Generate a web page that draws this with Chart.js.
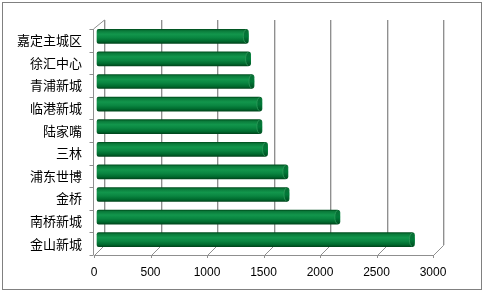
<!DOCTYPE html>
<html>
<head>
<meta charset="utf-8">
<script src="https://cdn.jsdelivr.net/npm/chart.js@4"></script>
<style>
html,body{margin:0;padding:0;background:#fff;}
canvas{display:block;}
</style>
</head>
<body>
<canvas id="c" width="485" height="293"></canvas>
<script>
const categories = ['嘉定主城区','徐汇中心','青浦新城','临港新城','陆家嘴','三林','浦东世博','金桥','南桥新城','金山新城'];
const values = [1340,1360,1390,1460,1460,1510,1690,1700,2150,2810];
const xMin = 0, xMax = 3000, xStep = 500;
const xTicks = [0,500,1000,1500,2000,2500,3000];

const DX = 10, DY = 10;     // depth of the back wall
const BX = 3, BY = -4;      // bar depth offset

const wall = {
  id: 'wall',
  beforeDatasetsDraw(chart) {
    const {ctx, chartArea: a, scales: {x}} = chart;
    ctx.save();
    ctx.lineWidth = 1;
    const top = a.top - 9;
    xTicks.forEach(v => {
      const px = Math.round(x.getPixelForValue(v)) + 0.5;
      ctx.strokeStyle = '#d6d6d6';
      ctx.beginPath();
      ctx.moveTo(px + DX + 1, a.bottom - DY);
      ctx.lineTo(px + DX + 1, top);
      ctx.stroke();
      ctx.strokeStyle = '#8f8f8f';
      ctx.beginPath();
      ctx.moveTo(px, a.bottom + 0.5);
      ctx.lineTo(px + DX, a.bottom - DY + 0.5);
      ctx.lineTo(px + DX, top);
      ctx.stroke();
      ctx.beginPath();
      ctx.moveTo(px, a.bottom);
      ctx.lineTo(px, a.bottom + 3);
      ctx.stroke();
    });
    ctx.strokeStyle = '#8f8f8f';
    ctx.beginPath();
    ctx.moveTo(a.left, Math.round(a.bottom) + 0.5);
    ctx.lineTo(a.right, Math.round(a.bottom) + 0.5);
    ctx.stroke();
    const lx = Math.round(a.left) - 0.5;
    ctx.beginPath();
    ctx.moveTo(lx, a.bottom);
    ctx.lineTo(lx, a.top);
    ctx.lineTo(Math.round(x.getPixelForValue(xMin)) + 0.5 + DX, top);
    ctx.stroke();
    const n = categories.length;
    for (let i = 0; i <= n; i++) {
      const yy = Math.round(a.top + i * (a.bottom - a.top) / n) + 0.5;
      ctx.beginPath();
      ctx.moveTo(lx - 4, yy);
      ctx.lineTo(lx, yy);
      ctx.stroke();
    }
    ctx.restore();
    ctx.save();
    ctx.translate(BX, BY);
  },
  afterDatasetsDraw(chart) {
    const ctx = chart.ctx;
    const meta = chart.getDatasetMeta(0);
    meta.data.forEach(el => {
      const h = el.height;
      const cx = el.x - 2.5;
      const g = ctx.createLinearGradient(0, el.y - h / 2, 0, el.y + h / 2);
      g.addColorStop(0, '#0b6b35');
      g.addColorStop(0.5, '#007a38');
      g.addColorStop(1, '#004a20');
      ctx.beginPath();
      ctx.ellipse(cx, el.y, 2.6, h / 2, 0, 0, Math.PI * 2);
      ctx.fillStyle = g;
      ctx.fill();
      ctx.lineWidth = 0.8;
      ctx.strokeStyle = '#2f9a5a';
      ctx.beginPath();
      ctx.ellipse(cx, el.y, 2.6, h / 2 - 0.5, 0, Math.PI * 0.5, Math.PI * 1.5);
      ctx.stroke();
    });
    ctx.restore();
  },
  afterDraw(chart) {
    const ctx = chart.ctx;
    ctx.save();
    ctx.strokeStyle = '#808080';
    ctx.lineWidth = 1;
    ctx.strokeRect(2.5, 2.5, 479, 287);
    ctx.restore();
  }
};

function barFill(c) {
  const chart = c.chart;
  if (!chart.chartArea) return '#0a8a40';
  const y = chart.scales.y.getPixelForValue(c.dataIndex);
  const g = chart.ctx.createLinearGradient(0, y - 7, 0, y + 7);
  g.addColorStop(0, '#00501f');
  g.addColorStop(0.1, '#0a7a3a');
  g.addColorStop(0.35, '#12964c');
  g.addColorStop(0.6, '#0a8641');
  g.addColorStop(0.85, '#006a2e');
  g.addColorStop(1, '#00461c');
  return g;
}

new Chart(document.getElementById('c'), {
  type: 'bar',
  data: {
    labels: categories,
    datasets: [{
      data: values,
      backgroundColor: barFill,
      borderWidth: 0,
      borderSkipped: false,
      borderRadius: {topLeft: 2, bottomLeft: 2, topRight: 3, bottomRight: 3},
      barThickness: 14,
      clip: false
    }]
  },
  options: {
    indexAxis: 'y',
    responsive: false,
    devicePixelRatio: 1,
    animation: false,
    layout: {padding: {left: 0, right: 52, top: 29, bottom: 0}},
    plugins: {legend: {display: false}, tooltip: {enabled: false}},
    scales: {
      x: {
        min: xMin, max: xMax,
        afterFit(s) { s.height = 38; },
        afterBuildTicks(s) { s.ticks = xTicks.map(v => ({value: v})); },
        grid: {display: false, drawTicks: false},
        border: {display: false},
        ticks: {
          stepSize: xStep,
          padding: 10,
          color: '#000',
          font: {family: 'Liberation Sans', size: 12},
          maxRotation: 0,
          callback: v => String(v)
        }
      },
      y: {
        afterFit(s) { s.width = 94; },
        grid: {display: false, drawTicks: false},
        border: {display: false},
        ticks: {
          padding: 12,
          color: '#000',
          font: {family: 'Noto Sans CJK SC', size: 13}
        }
      }
    }
  },
  plugins: [wall]
});
</script>
</body>
</html>
